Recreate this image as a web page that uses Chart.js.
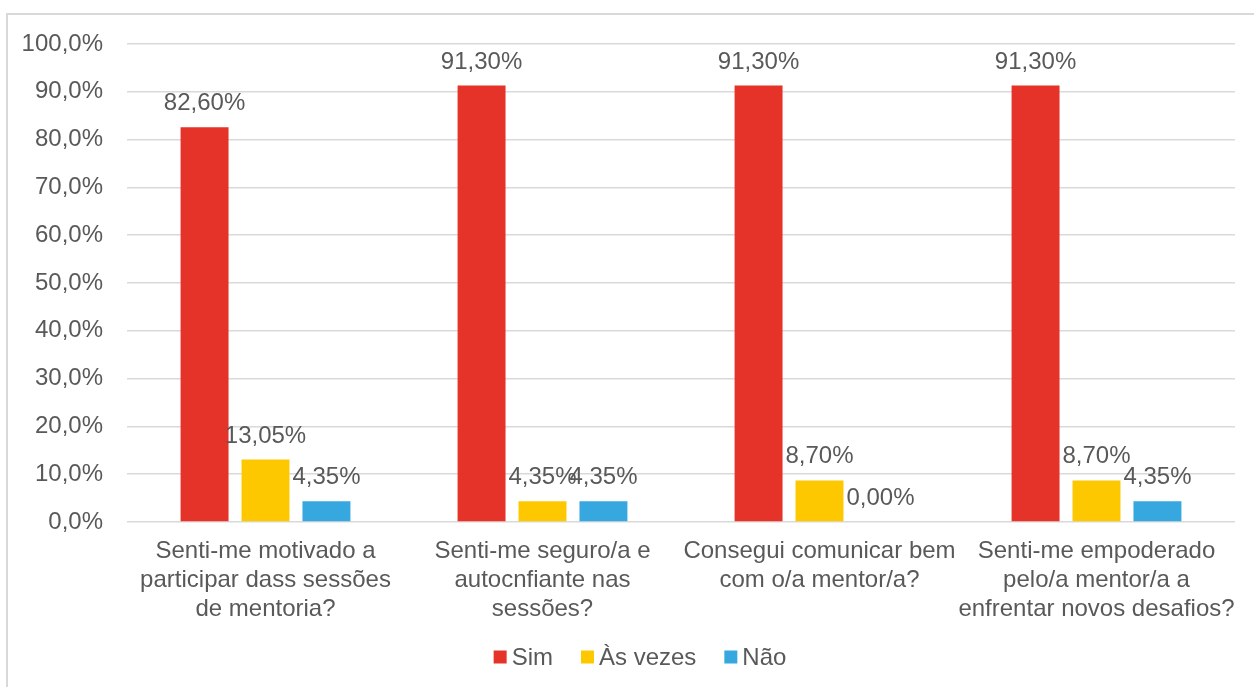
<!DOCTYPE html>
<html>
<head>
<meta charset="utf-8">
<script src="https://cdn.jsdelivr.net/npm/chart.js@4"></script>
<style>
  html, body { margin: 0; padding: 0; background: #fff; overflow: hidden; }
  #wrap { position: relative; width: 1254px; height: 687px; overflow: hidden; }
  #frame {
    position: absolute; left: 6px; top: 13px; width: 1260px; height: 700px;
    border-left: 2px solid #d9d9d9; border-top: 2px solid #d9d9d9;
    box-sizing: border-box;
  }
  canvas { position: absolute; left: 0; top: 0; }
</style>
</head>
<body>
<div id="wrap">
  <div id="frame"></div>
  <canvas id="survey" width="1254" height="687"></canvas>
</div>
<script>
const questions = [
  ["Senti-me motivado a", "participar dass sessões", "de mentoria?"],
  ["Senti-me seguro/a e", "autocnfiante nas", "sessões?"],
  ["Consegui comunicar bem", "com o/a mentor/a?"],
  ["Senti-me empoderado", "pelo/a mentor/a a", "enfrentar novos desafios?"]
];
const sim = [82.60, 91.30, 91.30, 91.30];
const asVezes = [13.05, 4.35, 8.70, 8.70];
const nao = [4.35, 4.35, 0.00, 4.35];
const yTickLabels = ["0,0%", "10,0%", "20,0%", "30,0%", "40,0%", "50,0%",
                     "60,0%", "70,0%", "80,0%", "90,0%", "100,0%"];

const textColor = "#595959";
const fontFamily = "'Liberation Sans', Arial, sans-serif";
const fontSize = 24;

// value labels above each bar, e.g. "82,60%"
const valueLabels = {
  id: "valueLabels",
  afterDatasetsDraw(chart) {
    const ctx = chart.ctx;
    ctx.save();
    ctx.font = `${fontSize}px ${fontFamily}`;
    ctx.fillStyle = textColor;
    ctx.textAlign = "center";
    ctx.textBaseline = "alphabetic";
    chart.data.datasets.forEach((ds, i) => {
      chart.getDatasetMeta(i).data.forEach((bar, j) => {
        const txt = ds.data[j].toFixed(2).replace(".", ",") + "%";
        ctx.fillText(txt, bar.x, bar.y - 17);
      });
    });
    ctx.restore();
  }
};

// compact legend row under the axis: small square, short gap, label
const bottomLegend = {
  id: "bottomLegend",
  afterDraw(chart) {
    const ctx = chart.ctx;
    const box = 13, gap = 5, spacing = 28, cx = 640, cy = 657;
    ctx.save();
    ctx.font = `${fontSize}px ${fontFamily}`;
    ctx.textBaseline = "middle";
    ctx.textAlign = "left";
    const items = chart.data.datasets.map(ds => ({
      text: ds.label, color: ds.backgroundColor,
      w: box + gap + ctx.measureText(ds.label).width
    }));
    const total = items.reduce((s, it) => s + it.w, 0) + spacing * (items.length - 1);
    let x = cx - total / 2;
    items.forEach(it => {
      ctx.fillStyle = it.color;
      ctx.fillRect(x, cy - box / 2, box, box);
      ctx.fillStyle = textColor;
      ctx.fillText(it.text, x + box + gap, cy + 1);
      x += it.w + spacing;
    });
    ctx.restore();
  }
};

Chart.defaults.font.family = fontFamily;
Chart.defaults.font.size = fontSize;
Chart.defaults.color = textColor;

new Chart(document.getElementById("survey"), {
  type: "bar",
  data: {
    labels: questions,
    datasets: [
      { label: "Sim", data: sim, backgroundColor: "#e5332a" },
      { label: "Às vezes", data: asVezes, backgroundColor: "#fec800" },
      { label: "Não", data: nao, backgroundColor: "#37a8df" }
    ]
  },
  options: {
    responsive: false,
    animation: false,
    devicePixelRatio: 1,
    layout: { padding: { left: 0, right: 19, top: 44, bottom: 68 } },
    datasets: { bar: { categoryPercentage: 0.66, barPercentage: 0.787 } },
    plugins: {
      legend: { display: false },
      tooltip: { enabled: false }
    },
    scales: {
      x: {
        grid: { display: false, drawTicks: false },
        border: { display: false },
        ticks: { maxRotation: 0, autoSkip: false, padding: 15, color: textColor,
                 font: { size: fontSize, lineHeight: 1.2 } },
        afterFit(scale) { scale.height = 97; }
      },
      y: {
        min: 0, max: 100,
        grid: { color: "#d9d9d9", lineWidth: 1.5, drawTicks: false },
        border: { display: false },
        ticks: {
          stepSize: 10, padding: 24, color: textColor,
          callback: (v, i) => yTickLabels[i]
        },
        afterFit(scale) { scale.width = 127; }
      }
    }
  },
  plugins: [valueLabels, bottomLegend]
});
</script>
</body>
</html>
